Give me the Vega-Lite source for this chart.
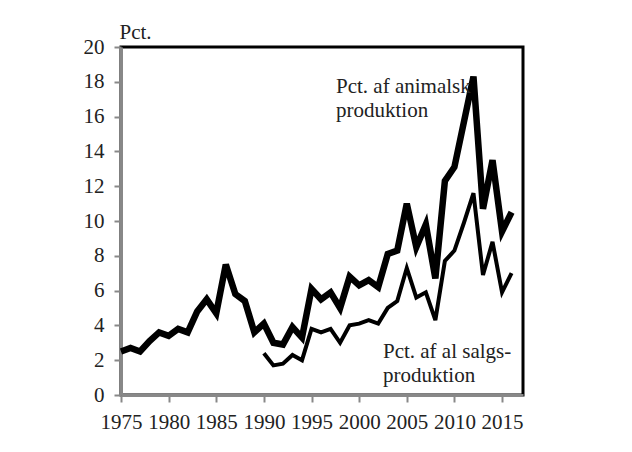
{
  "$schema": "https://vega.github.io/schema/vega-lite/v6.json",
  "width": 402,
  "height": 348,
  "autosize": "none",
  "padding": {"left": 121, "top": 47, "right": 109, "bottom": 57},
  "background": "white",
  "config": {
    "view": {"stroke": "black", "strokeWidth": 3},
    "font": "'Liberation Serif', 'Times New Roman', 'DejaVu Serif', serif",
    "axis": {
      "grid": false,
      "domainColor": "#888888",
      "domainWidth": 3,
      "tickColor": "#888888",
      "tickWidth": 2,
      "labelFont": "'Liberation Serif', 'Times New Roman', 'DejaVu Serif', serif",
      "labelFontSize": 21,
      "labelColor": "#222222",
      "titleFont": "'Liberation Serif', 'Times New Roman', 'DejaVu Serif', serif",
      "titleFontSize": 21,
      "titleFontWeight": "normal",
      "titleColor": "#222222"
    }
  },
  "datasets": {
    "series": [
      {"year": 1975, "value": 2.5, "series": "animalsk"},
      {"year": 1976, "value": 2.7, "series": "animalsk"},
      {"year": 1977, "value": 2.5, "series": "animalsk"},
      {"year": 1978, "value": 3.1, "series": "animalsk"},
      {"year": 1979, "value": 3.6, "series": "animalsk"},
      {"year": 1980, "value": 3.4, "series": "animalsk"},
      {"year": 1981, "value": 3.8, "series": "animalsk"},
      {"year": 1982, "value": 3.6, "series": "animalsk"},
      {"year": 1983, "value": 4.8, "series": "animalsk"},
      {"year": 1984, "value": 5.5, "series": "animalsk"},
      {"year": 1985, "value": 4.7, "series": "animalsk"},
      {"year": 1986, "value": 7.5, "series": "animalsk"},
      {"year": 1987, "value": 5.8, "series": "animalsk"},
      {"year": 1988, "value": 5.4, "series": "animalsk"},
      {"year": 1989, "value": 3.6, "series": "animalsk"},
      {"year": 1990, "value": 4.1, "series": "animalsk"},
      {"year": 1991, "value": 3.0, "series": "animalsk"},
      {"year": 1992, "value": 2.9, "series": "animalsk"},
      {"year": 1993, "value": 3.9, "series": "animalsk"},
      {"year": 1994, "value": 3.3, "series": "animalsk"},
      {"year": 1995, "value": 6.1, "series": "animalsk"},
      {"year": 1996, "value": 5.5, "series": "animalsk"},
      {"year": 1997, "value": 5.9, "series": "animalsk"},
      {"year": 1998, "value": 5.0, "series": "animalsk"},
      {"year": 1999, "value": 6.8, "series": "animalsk"},
      {"year": 2000, "value": 6.3, "series": "animalsk"},
      {"year": 2001, "value": 6.6, "series": "animalsk"},
      {"year": 2002, "value": 6.2, "series": "animalsk"},
      {"year": 2003, "value": 8.1, "series": "animalsk"},
      {"year": 2004, "value": 8.3, "series": "animalsk"},
      {"year": 2005, "value": 11.0, "series": "animalsk"},
      {"year": 2006, "value": 8.5, "series": "animalsk"},
      {"year": 2007, "value": 9.8, "series": "animalsk"},
      {"year": 2008, "value": 6.7, "series": "animalsk"},
      {"year": 2009, "value": 12.3, "series": "animalsk"},
      {"year": 2010, "value": 13.1, "series": "animalsk"},
      {"year": 2011, "value": 15.7, "series": "animalsk"},
      {"year": 2012, "value": 18.3, "series": "animalsk"},
      {"year": 2013, "value": 10.7, "series": "animalsk"},
      {"year": 2014, "value": 13.5, "series": "animalsk"},
      {"year": 2015, "value": 9.4, "series": "animalsk"},
      {"year": 2016, "value": 10.5, "series": "animalsk"},
      {"year": 1990, "value": 2.4, "series": "salg"},
      {"year": 1991, "value": 1.7, "series": "salg"},
      {"year": 1992, "value": 1.8, "series": "salg"},
      {"year": 1993, "value": 2.3, "series": "salg"},
      {"year": 1994, "value": 2.0, "series": "salg"},
      {"year": 1995, "value": 3.8, "series": "salg"},
      {"year": 1996, "value": 3.6, "series": "salg"},
      {"year": 1997, "value": 3.8, "series": "salg"},
      {"year": 1998, "value": 3.0, "series": "salg"},
      {"year": 1999, "value": 4.0, "series": "salg"},
      {"year": 2000, "value": 4.1, "series": "salg"},
      {"year": 2001, "value": 4.3, "series": "salg"},
      {"year": 2002, "value": 4.1, "series": "salg"},
      {"year": 2003, "value": 5.0, "series": "salg"},
      {"year": 2004, "value": 5.4, "series": "salg"},
      {"year": 2005, "value": 7.3, "series": "salg"},
      {"year": 2006, "value": 5.6, "series": "salg"},
      {"year": 2007, "value": 5.9, "series": "salg"},
      {"year": 2008, "value": 4.3, "series": "salg"},
      {"year": 2009, "value": 7.7, "series": "salg"},
      {"year": 2010, "value": 8.3, "series": "salg"},
      {"year": 2011, "value": 9.9, "series": "salg"},
      {"year": 2012, "value": 11.6, "series": "salg"},
      {"year": 2013, "value": 6.9, "series": "salg"},
      {"year": 2014, "value": 8.8, "series": "salg"},
      {"year": 2015, "value": 5.9, "series": "salg"},
      {"year": 2016, "value": 7.0, "series": "salg"}
    ],
    "labels": [
      {"year": 1997.57, "value": 17.34, "label": "Pct. af animalsk\nproduktion"},
      {"year": 2002.5, "value": 2.13, "label": "Pct. af al salgs-\nproduktion"}
    ]
  },
  "data": {"name": "series"},
  "encoding": {
    "x": {
      "field": "year",
      "type": "quantitative",
      "scale": {"domain": [1975, 2017.2], "nice": false, "zero": false},
      "axis": {
        "title": null,
        "values": [1975, 1980, 1985, 1990, 1995, 2000, 2005, 2010, 2015],
        "format": "d",
        "tickSize": 7,
        "labelPadding": 9,
        "labelFlush": false,
        "labelOverlap": false
      }
    },
    "y": {
      "field": "value",
      "type": "quantitative",
      "scale": {"domain": [0, 20], "nice": false},
      "axis": {
        "title": "Pct.",
        "titleAngle": 0,
        "titleAlign": "left",
        "titleBaseline": "alphabetic",
        "titleX": -2,
        "titleY": -9,
        "values": [0, 2, 4, 6, 8, 10, 12, 14, 16, 18, 20],
        "tickSize": 7,
        "labelPadding": 10
      }
    }
  },
  "layer": [
    {
      "transform": [{"filter": "datum.series === 'salg'"}],
      "mark": {"type": "line", "color": "black", "strokeWidth": 4, "strokeJoin": "miter"}
    },
    {
      "transform": [{"filter": "datum.series === 'animalsk'"}],
      "mark": {"type": "line", "color": "black", "strokeWidth": 6.5, "strokeJoin": "miter"}
    },
    {
      "data": {"name": "labels"},
      "mark": {
        "type": "text",
        "align": "left",
        "baseline": "alphabetic",
        "font": "'Liberation Serif', 'Times New Roman', 'DejaVu Serif', serif",
        "fontSize": 21,
        "lineHeight": 24,
        "color": "#222222",
        "lineBreak": "\n"
      },
      "encoding": {
        "text": {"field": "label"}
      }
    }
  ]
}
